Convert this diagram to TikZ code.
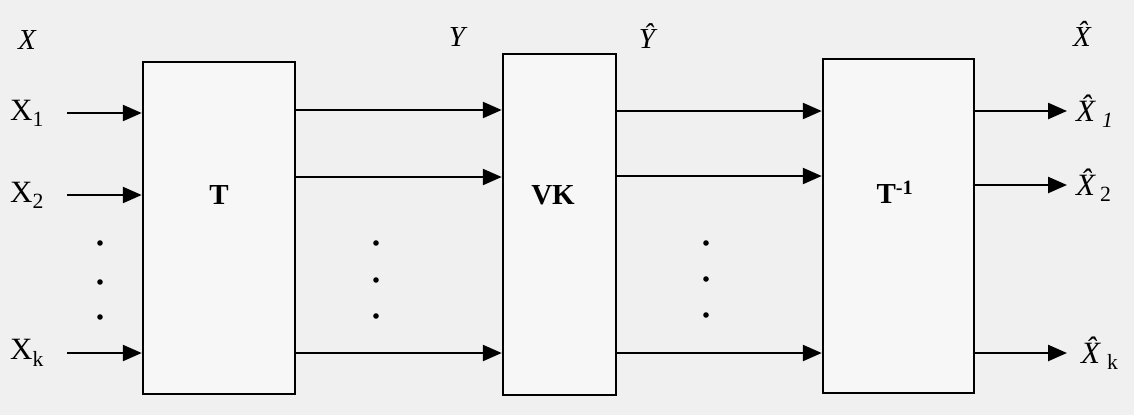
\documentclass[tikz,border=0pt]{standalone}
\usepackage{fontspec}
\setmainfont{Liberation Serif}
\usetikzlibrary{arrows.meta}

\tikzset{
	blk/.style={draw, line width=2.5pt, fill=black!3, inner sep=0pt},
	blktxt/.style={font=\fontsize{29}{32}\selectfont\bfseries, inner sep=0pt},
	arr/.style={line width=2.5pt, -{Triangle[length=19pt,width=16pt]}},
	lbl/.style={font=\fontsize{31}{34}\selectfont, inner sep=0pt},
	toplbl/.style={font=\fontsize{29}{32}\selectfont\itshape, inner sep=0pt}
}

\begin{document}
\begin{tikzpicture}[x=1pt, y=-1pt]
	\fill[black!6] (0,0) rectangle (1134,415);
	\useasboundingbox (0,0) rectangle (1134,415);
	% the three blocks
	\node[blk, minimum width=152pt, minimum height=332pt] (T) at (219,228) {};
	\node[blk, minimum width=113pt, minimum height=341pt] (VK) at (559.5,224.5) {};
	\node[blk, minimum width=151pt, minimum height=334pt] (Tinv) at (898.5,226) {};
	\node[blktxt] (Tname) at (219,195) {T};
	\node[blktxt] (VKname) at (553,195) {VK};
	\node[blktxt] (Tinvname) at (895,192) {T\textsuperscript{-1}};
	% signal names on top
	\node[toplbl] (X) at (27,40) {X};
	\node[toplbl] (Y) at (457,37) {Y};
	\node[toplbl] (Yh) at (647,36) {\^Y};
	\node[toplbl] (Xh) at (1082,34) {\^X};
	% inputs
	\node[lbl] (x1) at (27,113) {X\textsubscript{1}};
	\node[lbl] (x2) at (27,195) {X\textsubscript{2}};
	\node[lbl] (xk) at (27,353) {X\textsubscript{k}};
	\foreach \n/\y in {1/113, 2/195, k/353} {
		\coordinate (in\n) at (67,\y);
		\draw[arr] (in\n) -- (in\n -| T.west);
	}
	% T -> VK
	\foreach \n/\y in {1/110, 2/177, k/353} {
		\coordinate (y\n) at (T.east |- 0,\y);
		\draw[arr] (y\n) -- (y\n -| VK.west);
	}
	% VK -> T^-1
	\foreach \n/\y in {1/111, 2/176, k/353} {
		\coordinate (yh\n) at (VK.east |- 0,\y);
		\draw[arr] (yh\n) -- (yh\n -| Tinv.west);
	}
	% outputs
	\foreach \n/\y in {1/111, 2/185, k/353} {
		\coordinate (out\n) at (1067,\y);
		\draw[arr] (out\n -| Tinv.east) -- (out\n);
	}
	\node[lbl, anchor=west] (xh1) at (1076,111) {\itshape\^X\hspace{7pt}\textsubscript{1}};
	\node[lbl, anchor=west] (xh2) at (1076,185) {\itshape\^X\hspace{5pt}\textsubscript{\upshape 2}};
	\node[lbl, anchor=west] (xhk) at (1081,353) {\itshape\^X\hspace{7pt}\textsubscript{\upshape k}};
	% dots
	\foreach \x/\a/\b/\c in {100/243/282/317, 376/243/280/316, 706/243/279/315} {
		\fill (\x,\a) circle (2.8pt) (\x,\b) circle (2.8pt) (\x,\c) circle (2.8pt);
	}
\end{tikzpicture}
\end{document}
